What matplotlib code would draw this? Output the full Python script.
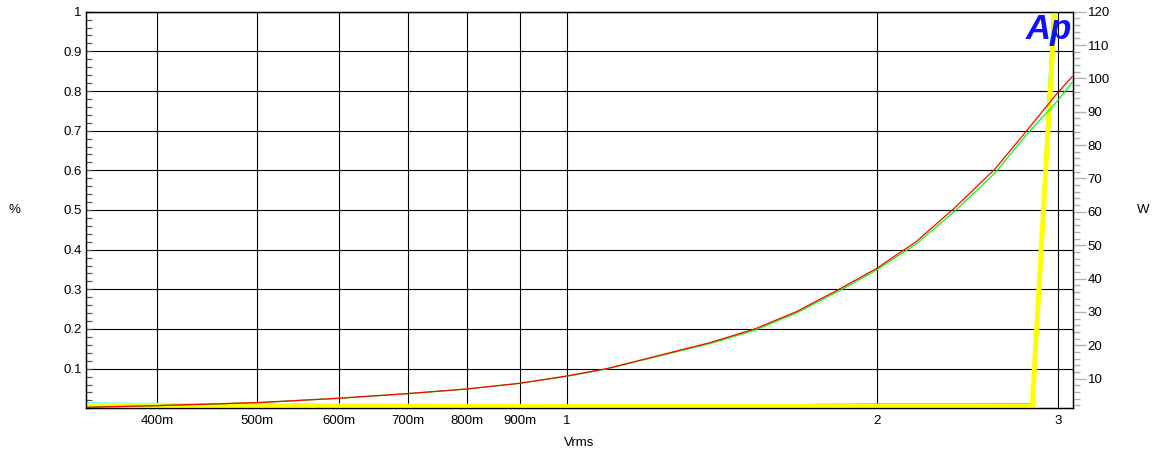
import matplotlib
matplotlib.use("Agg")
import matplotlib.pyplot as plt
from matplotlib.ticker import FixedLocator, MultipleLocator

plt.rcParams['font.family'] = ['Liberation Sans', 'DejaVu Sans']
plt.rcParams['font.size'] = 9.5

# x positions of the tick labels (Vrms)
x_ticks = [0.4, 0.5, 0.6, 0.7, 0.8, 0.9, 1, 2, 3]
x_labels = ['400m', '500m', '600m', '700m', '800m', '900m', '1', '2', '3']

# output power curves (W, right axis)
pwr_v = [0.341, 0.4, 0.5, 0.6, 0.7, 0.8, 0.9, 1.0, 1.093, 1.377, 1.522, 1.671,
         1.84, 2.0, 2.105, 2.178, 2.372, 2.603, 2.795, 2.993, 3.094]
red_w = [1.4, 1.9, 2.8, 4.1, 5.5, 6.9, 8.6, 10.8, 13.0, 20.8, 24.9, 30.1,
         36.9, 43.1, 47.8, 50.8, 60.8, 72.8, 84.3, 95.6, 100.5]
green_w = [1.4, 1.9, 2.8, 4.1, 5.5, 6.9, 8.6, 10.7, 12.9, 20.5, 24.5, 29.7,
           36.4, 42.6, 47.2, 50.1, 59.8, 71.6, 83.2, 93.2, 98.8]

# THD+N curves (%, left axis)
thd_v = [0.341, 0.4, 0.5, 0.6, 0.7, 0.8, 0.9, 1.0, 1.25, 1.5, 1.75, 2.0,
         2.25, 2.5, 2.83, 3.01]
yellow_pct = [0.007, 0.007, 0.0065, 0.006, 0.0055, 0.005, 0.005, 0.0045, 0.0045,
              0.0045, 0.0045, 0.0045, 0.0045, 0.0045, 0.005, 1.22]
cyan_pct = [0.013, 0.012, 0.010, 0.008, 0.007, 0.006, 0.005, 0.004, 0.004,
            0.004, 0.010, 0.011, 0.011, 0.011, 0.012, 1.35]

fig = plt.figure(figsize=(11.57, 4.58), dpi=100)
ax = fig.add_axes([86 / 1157, 1 - 408.3 / 458, (1073 - 86) / 1157, (408.3 - 11.7) / 458])

ax.plot(thd_v, cyan_pct, color='#00ffff', lw=1.0, zorder=3)
ax.plot(thd_v, yellow_pct, color='#ffff00', lw=3.6, zorder=4)

ax.set_xscale('log')
ax.set_xlim(0.341, 3.10)
ax.set_ylim(0, 1)
ax.xaxis.set_major_locator(FixedLocator(x_ticks))
ax.xaxis.set_minor_locator(FixedLocator([]))
ax.set_xticklabels(x_labels)
ax.tick_params(axis='x', length=0, pad=5, colors='black')

ax.yaxis.set_major_locator(FixedLocator([0.1, 0.2, 0.3, 0.4, 0.5, 0.6, 0.7, 0.8, 0.9, 1.0]))
ax.set_yticklabels(['0.1', '0.2', '0.3', '0.4', '0.5', '0.6', '0.7', '0.8', '0.9', '1'])
ax.yaxis.set_minor_locator(MultipleLocator(0.02))
ax.tick_params(axis='y', which='both', direction='in', length=4.5, width=0.9,
               color='#555555', pad=3)
ax.grid(True, which='major', color='black', lw=0.8)
for s in ax.spines.values():
    s.set_color('black')
    s.set_linewidth(0.9)

ax2 = ax.twinx()
ax2.plot(pwr_v, green_w, color='#00ff00', lw=0.9)
ax2.plot(pwr_v, red_w, color='#ff0000', lw=0.9)
ax2.set_ylim(1.1, 120)
ax2.yaxis.set_minor_locator(MultipleLocator(2))
ax2.set_yticks([10, 20, 30, 40, 50, 60, 70, 80, 90, 100, 110, 120])
ax2.tick_params(axis='y', which='major', direction='out', length=9.5, width=1.0,
                color='#b0b0b0', pad=1)
ax2.tick_params(axis='y', which='minor', direction='out', length=5, width=1.0,
                color='#b0b0b0')
for s in ax2.spines.values():
    s.set_color('black')
    s.set_linewidth(0.9)

fig.text(14 / 1157, 1 - 210 / 458, '%', ha='center', va='center')
fig.text(1143 / 1157, 1 - 210 / 458, 'W', ha='center', va='center')
fig.text(579 / 1157, 1 - 443 / 458, 'Vrms', ha='center', va='center')
fig.text(1049 / 1157, 1 - 29 / 458, 'Ap', ha='center', va='center', fontsize=25,
         fontweight='bold', fontstyle='italic', color='#1010ff', zorder=10)

fig.savefig('out.png', dpi=100)
